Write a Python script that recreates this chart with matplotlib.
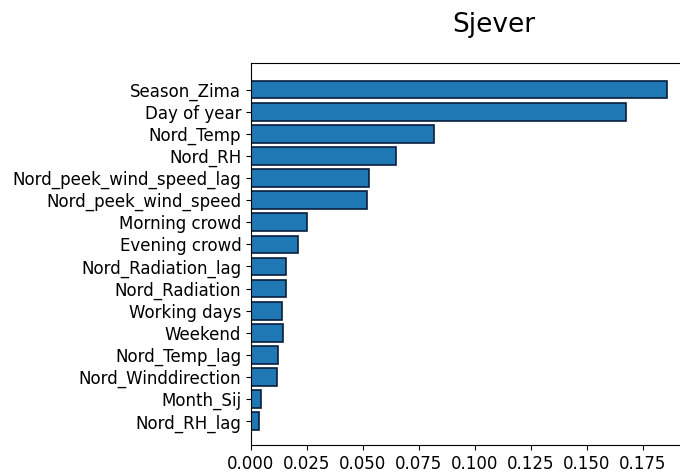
import matplotlib
matplotlib.use("Agg")
import matplotlib.pyplot as plt

# feature importances (top to bottom)
features = ["Season_Zima", "Day of year", "Nord_Temp", "Nord_RH",
            "Nord_peek_wind_speed_lag", "Nord_peek_wind_speed",
            "Morning crowd", "Evening crowd", "Nord_Radiation_lag",
            "Nord_Radiation", "Working days", "Weekend", "Nord_Temp_lag",
            "Nord_Winddirection", "Month_Sij", "Nord_RH_lag"]
importance = [0.1856, 0.1673, 0.0818, 0.0647,
              0.0528, 0.0516,
              0.0249, 0.0211, 0.0155,
              0.0155, 0.0140, 0.0141, 0.0119,
              0.0115, 0.0045, 0.0036]
xticks = [0.0, 0.025, 0.05, 0.075, 0.1, 0.125, 0.15, 0.175]

fig = plt.figure(figsize=(6.8, 4.75), dpi=100)
# axes run past the right edge, like the cropped original
ax = fig.add_axes([251/680, 30/475, (710-251)/680, 382/475])

# barh draws bottom-up, so reverse
ax.barh(features[::-1], importance[::-1], height=0.8,
        color="#1f77b4", edgecolor="#0a1f3d", linewidth=1.2)
ax.set_xlim(0, (710-251)/2240)
ax.set_ylim(-1.07, 16.2)
ax.set_xticks(xticks)
ax.set_xticklabels(["%.3f" % v for v in xticks])
ax.tick_params(labelsize=12)
ax.spines["right"].set_visible(False)  # cut off in the original

fig.text(494/680, 1 - 25/475, "Sjever", fontsize=19, ha="center", va="center")

fig.savefig("out.png", dpi=100)
